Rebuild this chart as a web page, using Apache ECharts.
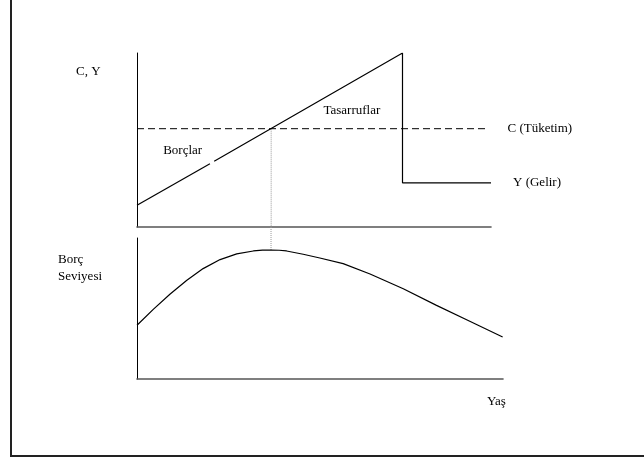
<!DOCTYPE html>
<html>
<head>
<meta charset="utf-8">
<script src="https://cdn.jsdelivr.net/npm/echarts@6/dist/echarts.min.js"></script>
<style>
  html, body { margin: 0; padding: 0; background: #fff; }
  #frame { position: absolute; left: 10px; top: 0; width: 632px; height: 455px;
           border-left: 2px solid #222; border-bottom: 2px solid #222; }
  #chart { position: absolute; left: 0; top: 0; width: 644px; height: 459px; }
</style>
</head>
<body>
<div id="frame"></div>
<div id="chart"></div>
<script>
// yaş ekseni 0..100 (üst panel), alt panel biraz daha uzun
const incomeRise = [[0, 12.5], [20.6, 36.4]];
const incomeRest = [[21.8, 37.8], [75, 100], [75, 25.4], [100, 25.4]];
const consumption = [[0, 56.5], [99, 56.5]];
const crossTop = [[37.9, 56.5], [37.9, 0]];
// borç seviyesi eğrisi (alt panel)
const debtLevel = [
    [0, 38.1], [4.6, 49.4], [9.3, 60.1], [14.1, 70.0], [18.7, 78.3], [23.5, 84.7],
    [28.2, 88.7], [32.9, 90.8], [35.5, 91.4], [37.9, 91.5], [40.2, 91.3], [42.3, 90.8],
    [47.0, 88.5], [51.7, 85.8], [58.3, 81.8], [65.9, 74.5], [75.3, 64.0], [84.7, 52.2],
    [94.1, 40.9], [103.4, 29.8]
];
const crossBottom = [[37.9, 91.5], [37.9, 108]];
const areaNotes = [
    { name: 'Tasarruflar', value: [60.7, 66.9] },
    { name: 'Borçlar', value: [12.9, 43.8] }
];

const font = 'Liberation Serif, Times New Roman, serif';
const ink = '#000';

const hiddenAxis = (gridIndex, min, max, lineColor, lineWidth) => ({
    type: 'value', gridIndex, min, max,
    axisLine: { show: true, onZero: false, lineStyle: { color: lineColor, width: lineWidth } },
    axisTick: { show: false }, axisLabel: { show: false }, splitLine: { show: false }
});

const chart = echarts.init(document.getElementById('chart'));
chart.setOption({
    animation: false,
    grid: [
        { left: 137, top: 53, width: 354, height: 174 },
        { left: 137, top: 238, width: 366, height: 141 }
    ],
    xAxis: [hiddenAxis(0, 0, 100, '#555', 1.6), hiddenAxis(1, 0, 103.5, '#555', 1.6)],
    yAxis: [hiddenAxis(0, 0, 100, ink, 1), hiddenAxis(1, 0, 100, ink, 1)],
    graphic: [
        { type: 'text', left: 76, top: 65, style: { text: 'C, Y', font: '13px ' + font, fill: ink } },
        { type: 'text', left: 58, top: 251, style: { text: 'Borç\nSeviyesi', font: '13px ' + font, fill: ink, lineHeight: 17 } },
        { type: 'text', left: 487, top: 395, style: { text: 'Yaş', font: '13px ' + font, fill: ink } }
    ],
    series: [
        {
            type: 'line', xAxisIndex: 0, yAxisIndex: 0, data: crossTop, symbol: 'none',
            lineStyle: { color: '#999', width: 1, type: 'dotted' }, clip: false
        },
        {
            type: 'line', xAxisIndex: 1, yAxisIndex: 1, data: crossBottom, symbol: 'none',
            lineStyle: { color: '#999', width: 1, type: 'dotted' }, clip: false
        },
        {
            type: 'line', xAxisIndex: 0, yAxisIndex: 0, data: consumption, symbol: 'none',
            lineStyle: { color: ink, width: 1, type: [7, 4] },
            endLabel: { show: true, formatter: 'C (Tüketim)', distance: 20, color: ink, fontFamily: font, fontSize: 13 }
        },
        {
            type: 'line', xAxisIndex: 0, yAxisIndex: 0, data: incomeRise, symbol: 'none',
            lineStyle: { color: ink, width: 1.2 }
        },
        {
            type: 'line', xAxisIndex: 0, yAxisIndex: 0, data: incomeRest, symbol: 'none',
            lineStyle: { color: ink, width: 1.2 },
            endLabel: { show: true, formatter: 'Y (Gelir)', distance: 22, color: ink, fontFamily: font, fontSize: 13 }
        },
        {
            type: 'scatter', xAxisIndex: 0, yAxisIndex: 0, data: areaNotes, symbolSize: 0,
            itemStyle: { opacity: 1 },
            label: { show: true, position: 'inside', formatter: '{b}', color: ink, fontFamily: font, fontSize: 13 }
        },
        {
            type: 'line', xAxisIndex: 1, yAxisIndex: 1, data: debtLevel, symbol: 'none',
            lineStyle: { color: ink, width: 1.2 }
        }
    ]
});
</script>
</body>
</html>
